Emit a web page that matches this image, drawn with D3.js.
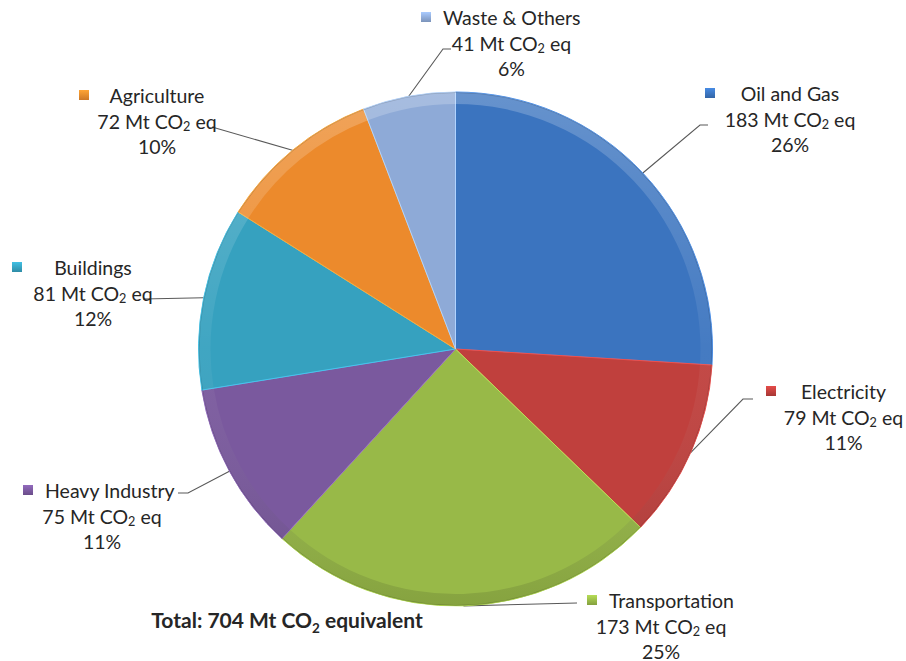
<!DOCTYPE html>
<html>
<head>
<meta charset="utf-8">
<script src="https://cdn.jsdelivr.net/npm/d3@7/dist/d3.min.js"></script>
<style>
  html, body { margin: 0; padding: 0; background: #fff; }
  svg { display: block; }
  text { font-family: Lato, "Open Sans", sans-serif; fill: #262626; }
</style>
</head>
<body>
<svg id="chart" width="906" height="661"></svg>
<script>
// ---- data ----
const categories = ["Oil and Gas", "Electricity", "Transportation", "Heavy Industry", "Buildings", "Agriculture", "Waste & Others"];
const values = [183, 79, 173, 75, 81, 72, 41];
const colors = ["#3b74bf", "#c0403d", "#98b948", "#7a599e", "#36a1bf", "#ec8a2c", "#8eaad7"];
const unitLabel = "Mt CO";
const unitSuffix = " eq";
const totalLabel = "Total: 704 Mt CO";
const totalSuffix = " equivalent";

// ---- label layout (positions only) ----
const labelLayout = [
  { cx: 790,   cy: 93,  mx: 710, elbow: [700, 125], end: [708, 125] },
  { cx: 843.5, cy: 391, mx: 771, elbow: [743, 399], end: [753, 399] },
  { cx: 661,   cy: 600, mx: 592, elbow: [577, 603], end: [577, 603] },
  { cx: 102,   cy: 490, mx: 28,  elbow: [188, 493], end: [178, 493] },
  { cx: 93,    cy: 267, mx: 17,  elbow: [143, 299], end: [143, 299] },
  { cx: 157,   cy: 95,  mx: 84,  elbow: [212, 127], end: [212, 127] },
  { cx: 511.5, cy: 17,  mx: 426, elbow: [443, 49],  end: [451, 49] }
];

const svg = d3.select("#chart");
const cx = 455.5, cy = 349, R = 257;
const fontSize = 19.5, lineH = 25.5;

const total = d3.sum(values);
const pct = d3.format(".0%");

const pie = d3.pie().sort(null).value(d => d)(values);
const arc = d3.arc().innerRadius(0).outerRadius(R);
const rim = d3.arc().innerRadius(R - 12).outerRadius(R);

const defs = svg.append("defs");
colors.forEach((c, i) => {
  const col = d3.color(c);
  const m = defs.append("linearGradient").attr("id", "mg" + i)
    .attr("x1", 0).attr("y1", 0).attr("x2", 0).attr("y2", 1);
  m.append("stop").attr("offset", "0%").attr("stop-color", col.brighter(0.5));
  m.append("stop").attr("offset", "100%").attr("stop-color", col.darker(0.4));
});
const rg = defs.append("linearGradient").attr("id", "rimg")
  .attr("gradientUnits", "userSpaceOnUse")
  .attr("x1", 0).attr("y1", -R).attr("x2", 0).attr("y2", R);
rg.append("stop").attr("offset", "0%").attr("stop-color", "#fff").attr("stop-opacity", 0.22);
rg.append("stop").attr("offset", "50%").attr("stop-color", "#fff").attr("stop-opacity", 0.05);
rg.append("stop").attr("offset", "100%").attr("stop-color", "#000").attr("stop-opacity", 0.12);

// ---- leader lines (drawn under pie) ----
const leaders = svg.append("g");
pie.forEach((p, i) => {
  const a = (p.startAngle + p.endAngle) / 2;
  const s = [cx + R * Math.sin(a), cy - R * Math.cos(a)];
  const L = labelLayout[i];
  leaders.append("polyline")
    .attr("points", [s, L.elbow, L.end].map(q => q.join(",")).join(" "))
    .attr("fill", "none").attr("stroke", "#595959").attr("stroke-width", 1.1);
});

// ---- pie ----
const g = svg.append("g").attr("transform", `translate(${cx},${cy})`);
g.selectAll("path.slice").data(pie).join("path")
  .attr("class", "slice")
  .attr("d", arc)
  .attr("fill", (d, i) => colors[i])
  .attr("stroke", (d, i) => d3.color(colors[i]).brighter(0.6))
  .attr("stroke-width", 1);
g.selectAll("path.rim").data(pie).join("path")
  .attr("class", "rim")
  .attr("d", rim)
  .attr("fill", "url(#rimg)");
g.append("circle").attr("r", R - 0.5).attr("fill", "none")
  .attr("stroke", "rgba(0,0,0,0.15)").attr("stroke-width", 1);

// ---- labels ----
const labels = svg.append("g").attr("font-size", fontSize);
pie.forEach((p, i) => {
  const L = labelLayout[i];
  const lg = labels.append("g");
  const t1 = lg.append("text").attr("text-anchor", "middle")
    .attr("dominant-baseline", "central")
    .attr("y", L.cy).attr("x", L.cx).text(categories[i]);
  const w1 = t1.node().getComputedTextLength();
  t1.attr("x", Math.max(L.cx, L.mx + 17 + w1 / 2));
  lg.append("rect")
    .attr("x", L.mx - 5).attr("y", L.cy - 5)
    .attr("width", 10).attr("height", 10)
    .attr("fill", `url(#mg${i})`);
  const t2 = lg.append("text").attr("text-anchor", "middle")
    .attr("dominant-baseline", "central")
    .attr("x", L.cx).attr("y", L.cy + lineH);
  t2.append("tspan").text(values[i] + " " + unitLabel);
  t2.append("tspan").attr("font-size", fontSize * 0.65).attr("dy", 5).text("2");
  t2.append("tspan").attr("dy", -5).text(unitSuffix);
  lg.append("text").attr("text-anchor", "middle")
    .attr("dominant-baseline", "central")
    .attr("x", L.cx).attr("y", L.cy + 2 * lineH)
    .text(pct(values[i] / total));
});

// ---- total ----
const tt = svg.append("text").attr("x", 287).attr("y", 628)
  .attr("text-anchor", "middle").attr("font-weight", "bold")
  .attr("font-size", 21).attr("fill", "#0d0d0d");
tt.append("tspan").text(totalLabel);
tt.append("tspan").attr("font-size", 13.5).attr("dy", 5).text("2");
tt.append("tspan").attr("dy", -5).text(totalSuffix);
</script>
</body>
</html>
